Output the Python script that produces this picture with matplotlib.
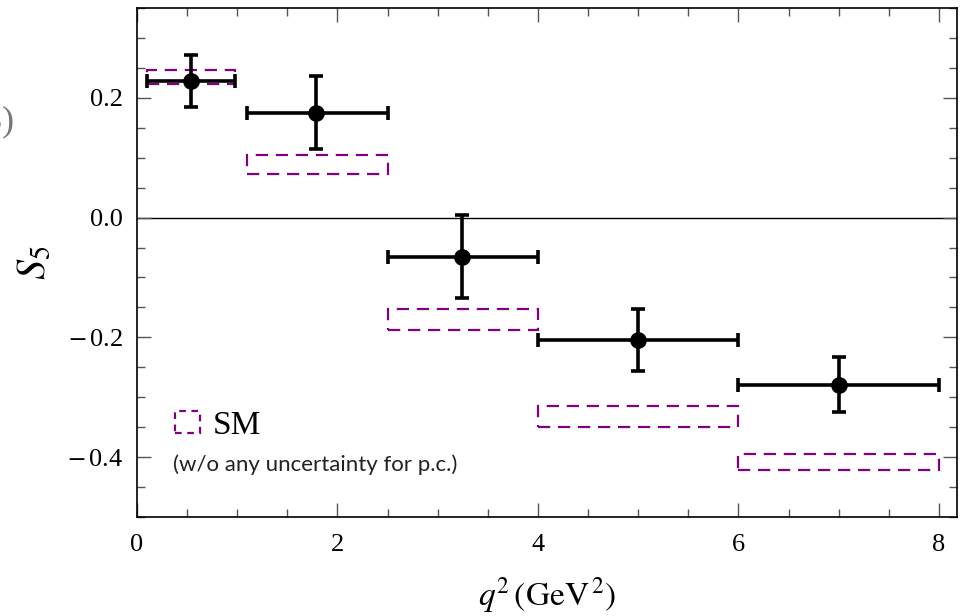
import matplotlib
matplotlib.use("Agg")
import matplotlib.pyplot as plt
from matplotlib.patches import Rectangle
from matplotlib.ticker import MultipleLocator, FixedLocator, FuncFormatter

# ---- data ----
bin_lo = [0.1, 1.1, 2.5, 4.0, 6.0]
bin_hi = [0.98, 2.5, 4.0, 6.0, 8.0]
x_center = [0.54, 1.79, 3.245, 5.0, 7.0]
s5_val = [0.228, 0.174, -0.065, -0.205, -0.279]
s5_err_up = [0.043, 0.062, 0.070, 0.053, 0.046]
s5_err_dn = [0.043, 0.060, 0.069, 0.051, 0.045]
sm_lo = [0.223, 0.072, -0.188, -0.349, -0.421]
sm_hi = [0.246, 0.104, -0.152, -0.314, -0.395]

purple = "#800080"

plt.rcParams['font.family'] = ['Liberation Serif', 'DejaVu Serif']
plt.rcParams['mathtext.fontset'] = 'stix'

fig = plt.figure(figsize=(9.61, 6.16), dpi=100)
ax = fig.add_axes([137/961, 1-517/616, (957-137)/961, (517-8)/616])

ax.set_xlim(0, 8.18)
ax.set_ylim(-0.5, 0.35)

# zero line
ax.axhline(0, color='black', lw=1.0, zorder=1)

# SM boxes
for lo, hi, a, b in zip(bin_lo, bin_hi, sm_lo, sm_hi):
    r = Rectangle((lo, a), hi - lo, b - a, fill=False, edgecolor=purple,
                  lw=1.6, linestyle=(0, (5.5, 3.5)), zorder=2)
    ax.add_patch(r)

# data points
xerr = [[c - l for c, l in zip(x_center, bin_lo)],
        [h - c for c, h in zip(x_center, bin_hi)]]
yerr = [s5_err_dn, s5_err_up]
ax.errorbar(x_center, s5_val, xerr=xerr, yerr=yerr, fmt='o', color='black',
            ms=11, elinewidth=2.6, capsize=5, capthick=2.6, zorder=3)

# ticks
ax.xaxis.set_major_locator(FixedLocator([0, 2, 4, 6, 8]))
ax.xaxis.set_minor_locator(MultipleLocator(0.5))
ax.yaxis.set_major_locator(FixedLocator([-0.4, -0.2, 0.0, 0.2]))
ax.yaxis.set_minor_locator(MultipleLocator(0.05))
ax.yaxis.set_major_formatter(FuncFormatter(
    lambda v, p: ("$-\\,$" if v < -1e-9 else "") + f"{abs(v):.1f}"))
ax.tick_params(which='both', direction='in', top=True, right=True,
               color='#555555', labelsize=19)
ax.tick_params(which='major', length=10, width=1.0, pad=10)
ax.tick_params(which='minor', length=6, width=1.0)
ax.tick_params(axis='x', which='major', pad=12)
for s in ax.spines.values():
    s.set_linewidth(1.2)
    s.set_color('black')

ax.set_ylabel(r'$S_5$', fontsize=29, labelpad=10)
ax.set_xlabel(r'$q^2\,(\mathrm{GeV}^{\,2})$', fontsize=24, labelpad=14)

# legend
leg_patch = Rectangle((0, 0), 1, 1, fill=False, edgecolor=purple, lw=1.6,
                      linestyle=(0, (3, 2.5)))
ax.legend([leg_patch], ['SM'], loc='center left',
          bbox_to_anchor=(0.046, 0.180), frameon=False, fontsize=24,
          handlelength=0.75, handleheight=0.62, handletextpad=0.4,
          borderaxespad=0, borderpad=0)

ax.text(0.36, -0.413, '(w/o any uncertainty for p.c.)', fontsize=16,
        family=['Lato', 'DejaVu Sans'], color='#222222', va='center', ha='left')

# partial clipped label at left edge (cut off in the original as well)
fig.text(-0.029, 1-122/616, '(3)', fontsize=26, color='#777777',
         va='center', ha='left')

fig.savefig('out.png', dpi=100)
